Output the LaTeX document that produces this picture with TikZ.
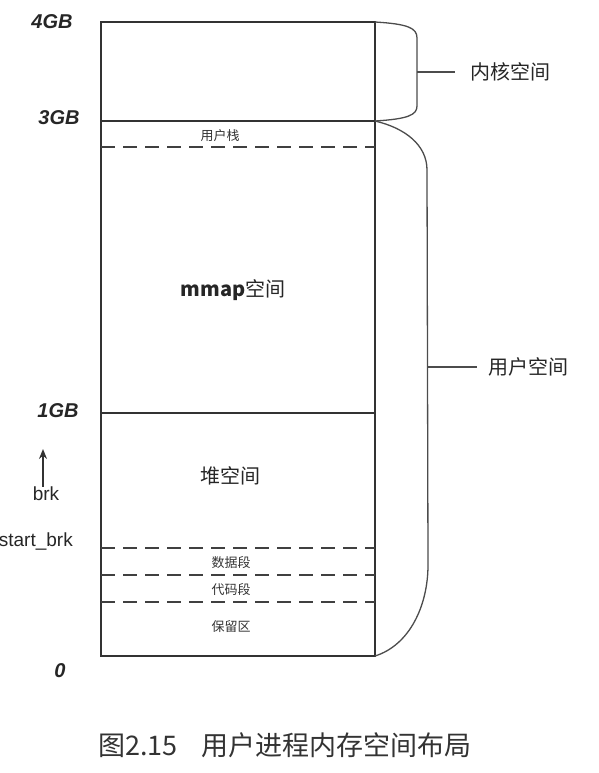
\documentclass[tikz,border=0pt]{standalone}
\usepackage{fontspec}
\setmainfont{Liberation Sans}
\newfontfamily\cjk{Noto Sans CJK SC}
\usetikzlibrary{arrows.meta}

\begin{document}
\begin{tikzpicture}[x=1pt,y=-1pt,
  wall/.style={line width=1.7pt, draw=black!80},
  divider/.style={line width=1.9pt, draw=black!75, dash pattern=on 14pt off 8pt},
  bracket/.style={line width=1.3pt, draw=black!70},
  addr/.style={font=\fontsize{20}{20}\selectfont\bfseries\itshape, text=black!85, inner sep=0},
  region/.style={font=\cjk\fontsize{20}{20}\selectfont, text=black!85, inner sep=0},
  small/.style={font=\cjk\fontsize{13}{13}\selectfont, text=black!80, inner sep=0},
  side/.style={font=\cjk\fontsize{20}{20}\selectfont, text=black!85, inner sep=0, anchor=west},
  ptr/.style={font=\fontsize{19}{19}\selectfont, text=black!85, inner sep=0},
]
\useasboundingbox (0,0) rectangle (599,773);

% address space column
\coordinate (tl) at (101,22);
\coordinate (br) at (375,656);
\draw[wall] (tl) rectangle (br);
\draw[wall] (101,121) -- (375,121);
\draw[wall] (101,413) -- (375,413);
\foreach \y in {147,548,575,602}
  \draw[divider] (101,\y) -- (375,\y);

% address marks
\node[addr] (g4) at (52,22) {4GB};
\node[addr] (g3) at (59,118) {3GB};
\node[addr] (g1) at (58,411) {1GB};
\node[addr] (g0) at (60,671) {0};

% regions
\node[small] (stack) at (220,136) {用户栈};
\node[region] (mmap) at (233,290) {\bfseries mmap\mdseries\cjk 空间};
\node[region] (heap) at (230,476) {堆空间};
\node[small] (data) at (231,563) {数据段};
\node[small] (code) at (231,590) {代码段};
\node[small] (resv) at (231,627) {保留区};

% heap pointers
\node[ptr] (brk) at (46,494) {brk};
\coordinate (brktip) at (43,449);
\draw[-{Stealth[length=10pt,width=8pt]}, line width=1.4pt, draw=black!80]
  (brk.north -| brktip) -- (brktip);
\node[ptr, anchor=east] (startbrk) at (73,541) {start\_brk};

% kernel space bracket
\node[side] (kernel) at (470,72) {内核空间};
\draw[bracket] (375,22) .. controls (408,24) and (417,28) .. (417,38)
  -- (417,106) .. controls (417,115) and (408,119) .. (375,121);
\coordinate (kmid) at (417,72);
\draw[bracket, shorten >=15pt] (kmid) -- (kernel.west);

% user space bracket
\node[side] (user) at (488,367) {用户空间};
\draw[bracket] (375,121) .. controls (405,128) and (427,145) .. (427,170)
  -- (428,565) .. controls (428,605) and (410,645) .. (375,656);
\coordinate (umid) at (428,367);
\draw[bracket, shorten >=11pt] (umid) -- (user.west);

% caption
\node[font=\cjk\fontsize{27}{27}\selectfont, text=black!80, anchor=west, inner sep=0]
  (cap) at (98,745) {图2.15\hspace{24pt}用户进程内存空间布局};
\end{tikzpicture}
\end{document}
